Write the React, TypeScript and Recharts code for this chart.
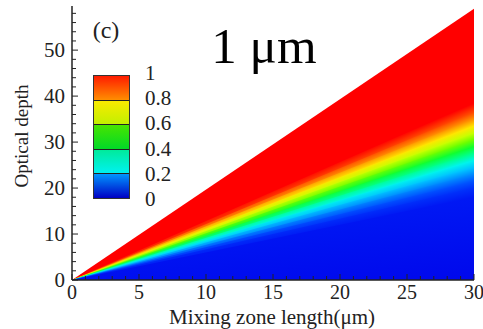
import React from 'react'
import { AreaChart, Area, XAxis, YAxis } from 'recharts'

// mixing zone length range (µm)
const lengths = [0, 30]
// optical depth of each colour boundary at the 30 µm edge, from the top down
const edgeDepths = [59, 38.5, 36.5, 35, 33.5, 32, 30.5, 29, 27.5, 26, 24.5, 23, 21.5, 20, 18]
// colour on each of those boundaries, last one is the colour along the x axis
const edgeColors = [
  '#ff0000', '#ff0000', '#ff4a00', '#ff9400', '#ffe600', '#c8ff00', '#6cff00', '#10ff30',
  '#00ff90', '#00f4ec', '#00c4ff', '#0088ff', '#0052ff', '#0030fa', '#0018f4', '#0008ec',
]
const xLabels = [0, 5, 10, 15, 20, 25, 30]
const yLabels = [0, 10, 20, 30, 40, 50]
const barLabels = ['1', '0.8', '0.6', '0.4', '0.2', '0']

const xTicks = Array.from({ length: 31 }, (_, i) => i)
const yTicks = Array.from({ length: 30 }, (_, i) => i * 2)

const font = "'Liberation Serif', Tinos, 'DejaVu Serif', Times, serif"
const ink = '#222'
const txt = { fontFamily: font }

// every boundary meets the others at the origin
const rows = lengths.map((len) => {
  const row: Record<string, number> = { len }
  edgeDepths.forEach((d, i) => {
    row['e' + i] = len === 0 ? 0 : d
  })
  return row
})

// gradient across one wedge, in bounding box units, running
// perpendicular to the wedge's middle line
function wedgeGradient(i: number) {
  const upper = edgeDepths[i]
  const lower = edgeDepths[i + 1] ?? 0
  const t1 = (upper - lower) / upper
  const tm = t1 / 2
  const nx = 1 - tm
  const ny = 1
  const nn = nx * nx + ny * ny
  return (
    <linearGradient key={i} id={'band' + i} x1={1} y1={0} x2={1 + (nx * t1) / nn} y2={(ny * t1) / nn}>
      <stop offset="0%" stopColor={edgeColors[i]} />
      <stop offset="100%" stopColor={edgeColors[i + 1]} />
    </linearGradient>
  )
}

function XTick(props: any) {
  const { x, y, payload } = props
  const major = xLabels.includes(payload.value)
  return (
    <g>
      <line x1={x} x2={x} y1={y} y2={y - (major ? 6 : 4)} stroke={ink} strokeWidth={1} />
      {major && (
        <text x={x} y={y + 19} textAnchor="middle" style={txt} fontSize={20} fill={ink}>
          {payload.value}
        </text>
      )}
    </g>
  )
}

function YTick(props: any) {
  const { x, y, payload } = props
  const major = yLabels.includes(payload.value)
  return (
    <g>
      <line x1={x} x2={x + (major ? 6 : 4)} y1={y} y2={y} stroke={ink} strokeWidth={1} />
      {major && (
        <text x={x - 7} y={y + 7} textAnchor="end" style={txt} fontSize={21} fill={ink}>
          {payload.value}
        </text>
      )}
    </g>
  )
}

export default function App() {
  return (
    <div style={{ position: 'fixed', left: 0, top: 0, width: 483, height: 329, background: '#fff' }}>
      <AreaChart width={483} height={329} data={rows} margin={{ top: 6, right: 9, left: 12, bottom: 19 }}>
        <defs>{edgeDepths.map((_, i) => wedgeGradient(i))}</defs>
        {edgeDepths.map((_, i) => (
          <Area
            key={i}
            dataKey={'e' + i}
            type="linear"
            stroke="none"
            fill={'url(#band' + i + ')'}
            fillOpacity={1}
            baseValue={0}
            isAnimationActive={false}
          />
        ))}
        <XAxis
          dataKey="len"
          type="number"
          domain={[0, 30]}
          ticks={xTicks}
          interval={0}
          tick={<XTick />}
          tickLine={false}
          tickSize={0}
          tickMargin={0}
          height={30}
          axisLine={{ stroke: ink, strokeWidth: 1.5 }}
        />
        <XAxis xAxisId="top" orientation="top" dataKey="len" type="number" domain={[0, 30]} height={0} tick={false} tickLine={false} axisLine={{ stroke: '#555', strokeWidth: 1.5 }} />
        <YAxis
          type="number"
          domain={[0, 59.6]}
          ticks={yTicks}
          interval={0}
          tick={<YTick />}
          tickLine={false}
          tickSize={0}
          tickMargin={0}
          width={60}
          axisLine={{ stroke: ink, strokeWidth: 1.5 }}
        />
        <YAxis yAxisId="right" orientation="right" type="number" domain={[0, 59.6]} width={0} tick={false} tickLine={false} axisLine={{ stroke: '#555', strokeWidth: 1.5 }} />
      </AreaChart>

      {/* colour bar */}
      <div
        style={{
          position: 'absolute',
          left: 93,
          top: 75,
          width: 35,
          height: 122,
          border: '1px solid #333',
          background:
            'linear-gradient(to bottom, #ff1c00 0%, #ff9000 20%, #fbea00 20%, #c0f000 40%, #48e400 40%, #00da28 60%, #00ea98 60%, #00f2f2 80%, #0098ff 80%, #0000c4 100%)',
        }}
      >
        {[1, 2, 3, 4].map((k) => (
          <div key={k} style={{ position: 'absolute', left: 0, right: 0, top: (122 * k) / 5 - 0.5, height: 1, background: '#222' }} />
        ))}
      </div>

      <svg width={483} height={329} style={{ position: 'absolute', left: 0, top: 0, pointerEvents: 'none' }}>
        {barLabels.map((t, i) => (
          <text key={t} x={145} y={80 + i * 25.2} style={txt} fontSize={21} fill={ink}>
            {t}
          </text>
        ))}
        <text x={106} y={38} textAnchor="middle" style={txt} fontSize={24} fill={ink}>
          (c)
        </text>
        <text x={264} y={63} textAnchor="middle" style={txt} fontSize={51} fill="#000">
          1 μm
        </text>
        <text x={272} y={324} textAnchor="middle" style={txt} fontSize={21} fill={ink}>
          Mixing zone length(μm)
        </text>
        <text transform="translate(28,136) rotate(-90)" textAnchor="middle" style={txt} fontSize={19} fill={ink}>
          Optical depth
        </text>
      </svg>
    </div>
  )
}
